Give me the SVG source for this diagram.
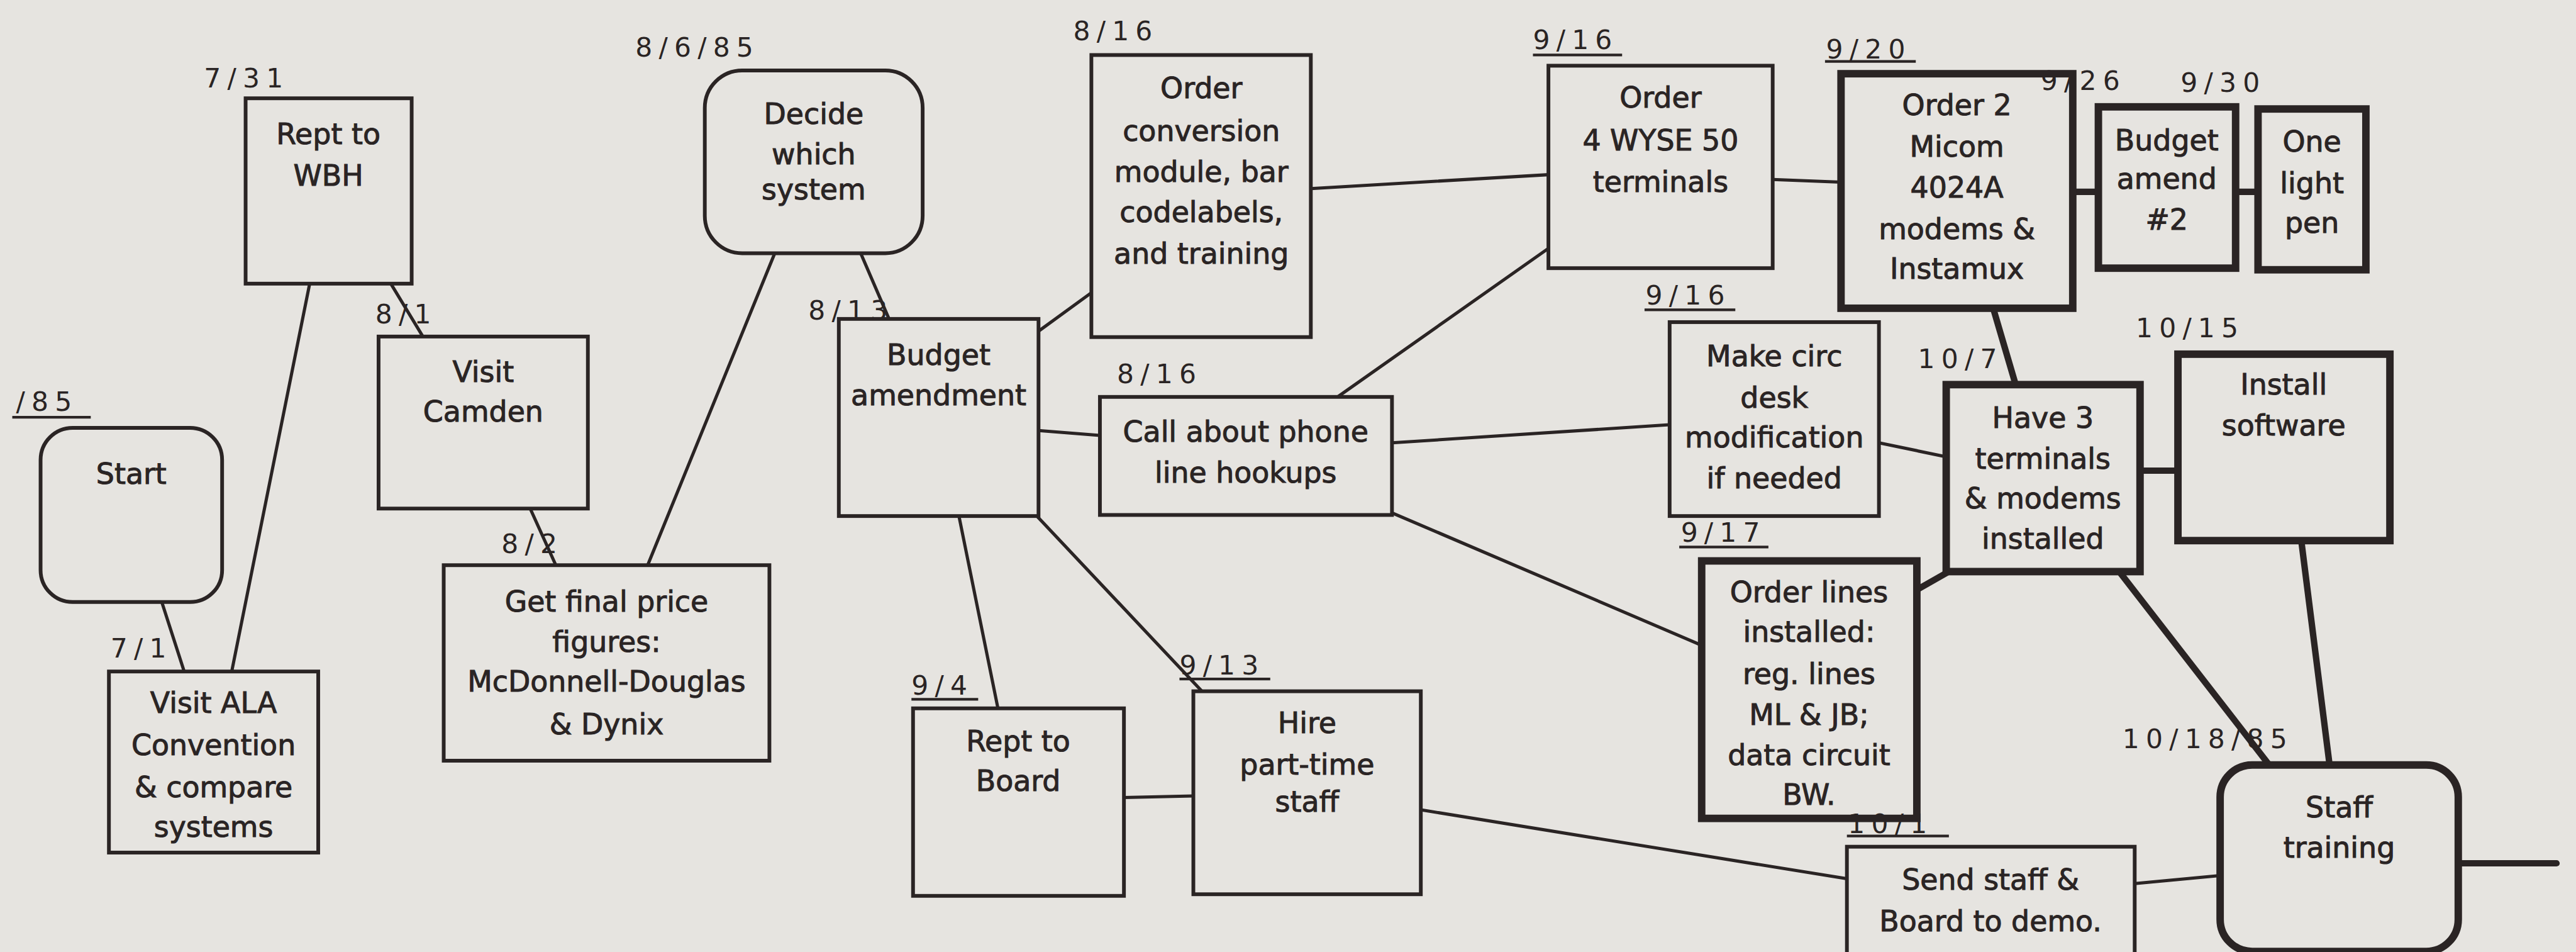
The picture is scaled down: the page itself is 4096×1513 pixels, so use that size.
<svg xmlns="http://www.w3.org/2000/svg" width="4096" height="1513" viewBox="0 0 4096 1513">
<style>
.bg{fill:#e6e4e0}
.box{fill:#e6e4e0;stroke:#2a2424;stroke-width:7}
.thick{stroke-width:14}
.t{font-family:"DejaVu Sans","Liberation Sans",sans-serif;font-size:54px;fill:#2a2424;stroke:#2a2424;stroke-width:1.2;text-anchor:middle}
.d{font-family:"DejaVu Sans","Liberation Sans",sans-serif;font-size:50px;letter-spacing:12px;fill:#2a2424}
.c{stroke:#2a2424;stroke-width:6;fill:none;stroke-linecap:round}
.ct{stroke-width:12}
.u{stroke:#2a2424;stroke-width:5}
</style>
<rect class="bg" x="0" y="0" width="4096" height="1513"/>
<g transform="scale(0.849)">
<g id="connectors">
<line class="c" x1="303" y1="1127" x2="345" y2="1257"/>
<line class="c" x1="434" y1="1257" x2="580" y2="531"/>
<line class="c" x1="732" y1="531" x2="792" y2="630"/>
<line class="c" x1="993" y1="952" x2="1041" y2="1058"/>
<line class="c" x1="1213" y1="1058" x2="1451" y2="474"/>
<line class="c" x1="1612" y1="474" x2="1665" y2="597"/>
<line class="c" x1="1945" y1="620" x2="2044" y2="548"/>
<line class="c" x1="1945" y1="806" x2="2060" y2="815"/>
<line class="c" x1="1796" y1="966" x2="1869" y2="1326"/>
<line class="c" x1="1942" y1="966" x2="2251" y2="1294"/>
<line class="c" x1="2105" y1="1493" x2="2235" y2="1490"/>
<line class="c" x1="2455" y1="353" x2="2900" y2="327"/>
<line class="c" x1="2505" y1="743" x2="2900" y2="465"/>
<line class="c" x1="2607" y1="829" x2="3127" y2="795"/>
<line class="c" x1="2607" y1="960" x2="3187" y2="1208"/>
<line class="c" x1="2661" y1="1516" x2="3459" y2="1645"/>
<line class="c" x1="3320" y1="336" x2="3448" y2="341"/>
<line class="c ct" x1="3882" y1="359" x2="3930" y2="359"/>
<line class="c ct" x1="4187" y1="359" x2="4229" y2="359"/>
<line class="c ct" x1="3733" y1="577" x2="3775" y2="720"/>
<line class="c" x1="3519" y1="829" x2="3645" y2="855"/>
<line class="c ct" x1="3590" y1="1104" x2="3650" y2="1070"/>
<line class="c ct" x1="4008" y1="881" x2="4079" y2="881"/>
<line class="c ct" x1="3969" y1="1070" x2="4250" y2="1432"/>
<line class="c ct" x1="4310" y1="1012" x2="4363" y2="1432"/>
<line class="c" x1="3998" y1="1654" x2="4158" y2="1639"/>
<line class="c ct" x1="4604" y1="1616" x2="4788" y2="1616"/>
</g>
<g id="start"><rect class="box" x="76" y="801" width="340" height="326" rx="60"/><text class="t" x="246" y="906">Start</text></g>
<g id="visit-ala"><rect class="box" x="204" y="1257" width="392" height="339"/><text class="t" x="400" y="1334">Visit ALA</text><text class="t" x="400" y="1414">Convention</text><text class="t" x="400" y="1492">&amp; compare</text><text class="t" x="400" y="1567">systems</text></g>
<g id="rept-wbh"><rect class="box" x="460" y="184" width="311" height="347"/><text class="t" x="615" y="270">Rept to</text><text class="t" x="615" y="347">WBH</text></g>
<g id="visit-camden"><rect class="box" x="709" y="630" width="392" height="322"/><text class="t" x="905" y="715">Visit</text><text class="t" x="905" y="789">Camden</text></g>
<g id="get-final-price"><rect class="box" x="831" y="1058" width="610" height="366"/><text class="t" x="1136" y="1145">Get final price</text><text class="t" x="1136" y="1220">figures:</text><text class="t" x="1136" y="1294">McDonnell-Douglas</text><text class="t" x="1136" y="1375">&amp; Dynix</text></g>
<g id="decide"><rect class="box" x="1320" y="132" width="408" height="342" rx="70"/><text class="t" x="1524" y="232">Decide</text><text class="t" x="1524" y="307">which</text><text class="t" x="1524" y="373">system</text></g>
<g id="budget-amendment"><rect class="box" x="1571" y="597" width="374" height="369"/><text class="t" x="1758" y="683">Budget</text><text class="t" x="1758" y="758">amendment</text></g>
<g id="order-conversion"><rect class="box" x="2044" y="103" width="411" height="528"/><text class="t" x="2250" y="184">Order</text><text class="t" x="2250" y="264">conversion</text><text class="t" x="2250" y="341">module, bar</text><text class="t" x="2250" y="416">codelabels,</text><text class="t" x="2250" y="494">and training</text></g>
<g id="call-phone"><rect class="box" x="2060" y="743" width="547" height="221"/><text class="t" x="2333" y="827">Call about phone</text><text class="t" x="2333" y="903">line hookups</text></g>
<g id="rept-board"><rect class="box" x="1710" y="1326" width="395" height="351"/><text class="t" x="1907" y="1406">Rept to</text><text class="t" x="1907" y="1481">Board</text></g>
<g id="hire"><rect class="box" x="2235" y="1294" width="426" height="380"/><text class="t" x="2448" y="1372">Hire</text><text class="t" x="2448" y="1450">part-time</text><text class="t" x="2448" y="1519">staff</text></g>
<g id="order-wyse"><rect class="box" x="2900" y="123" width="420" height="379"/><text class="t" x="3110" y="201">Order</text><text class="t" x="3110" y="281">4 WYSE 50</text><text class="t" x="3110" y="359">terminals</text></g>
<g id="make-circ"><rect class="box" x="3127" y="603" width="392" height="363"/><text class="t" x="3323" y="686">Make circ</text><text class="t" x="3323" y="763">desk</text><text class="t" x="3323" y="838">modification</text><text class="t" x="3323" y="914">if needed</text></g>
<g id="order-micom"><rect class="box thick" x="3448" y="138" width="434" height="439"/><text class="t" x="3665" y="215">Order 2</text><text class="t" x="3665" y="293">Micom</text><text class="t" x="3665" y="370">4024A</text><text class="t" x="3665" y="448">modems &amp;</text><text class="t" x="3665" y="522">Instamux</text></g>
<g id="budget-amend-2"><rect class="box thick" x="3930" y="200" width="257" height="302"/><text class="t" x="4058" y="281">Budget</text><text class="t" x="4058" y="353">amend</text><text class="t" x="4058" y="430">#2</text></g>
<g id="light-pen"><rect class="box thick" x="4229" y="204" width="202" height="301"/><text class="t" x="4330" y="284">One</text><text class="t" x="4330" y="362">light</text><text class="t" x="4330" y="436">pen</text></g>
<g id="have-3"><rect class="box thick" x="3645" y="720" width="363" height="350"/><text class="t" x="3826" y="801">Have 3</text><text class="t" x="3826" y="878">terminals</text><text class="t" x="3826" y="952">&amp; modems</text><text class="t" x="3826" y="1027">installed</text></g>
<g id="order-lines"><rect class="box thick" x="3187" y="1050" width="403" height="482"/><text class="t" x="3388" y="1127">Order lines</text><text class="t" x="3388" y="1202">installed:</text><text class="t" x="3388" y="1280">reg. lines</text><text class="t" x="3388" y="1357">ML &amp; JB;</text><text class="t" x="3388" y="1432">data circuit</text><text class="t" x="3388" y="1507">BW.</text></g>
<g id="install-software"><rect class="box thick" x="4079" y="663" width="397" height="349"/><text class="t" x="4277" y="738">Install</text><text class="t" x="4277" y="815">software</text></g>
<g id="send-staff"><rect class="box" x="3459" y="1585" width="539" height="230"/><text class="t" x="3728" y="1665">Send staff &amp;</text><text class="t" x="3728" y="1743">Board to demo.</text></g>
<g id="staff-training"><rect class="box thick" x="4158" y="1432" width="446" height="349" rx="60"/><text class="t" x="4381" y="1530">Staff</text><text class="t" x="4381" y="1605">training</text></g>
<g id="dates">
<text class="d" x="30" y="769">/85</text><line class="u" x1="23" y1="781" x2="170" y2="781"/>
<text class="d" x="382" y="164">7/31</text>
<text class="d" x="703" y="606">8/1</text>
<text class="d" x="207" y="1231">7/1</text>
<text class="d" x="1190" y="106">8/6/85</text>
<text class="d" x="1514" y="598">8/13</text>
<text class="d" x="939" y="1035">8/2</text>
<text class="d" x="2010" y="75">8/16</text>
<text class="d" x="2092" y="717">8/16</text>
<text class="d" x="1707" y="1300">9/4</text><line class="u" x1="1707" y1="1309" x2="1832" y2="1309"/>
<text class="d" x="2209" y="1263">9/13</text><line class="u" x1="2209" y1="1271" x2="2379" y2="1271"/>
<text class="d" x="2871" y="92">9/16</text><line class="u" x1="2871" y1="103" x2="3038" y2="103"/>
<text class="d" x="3082" y="570">9/16</text><line class="u" x1="3080" y1="580" x2="3250" y2="580"/>
<text class="d" x="3148" y="1014">9/17</text><line class="u" x1="3145" y1="1024" x2="3312" y2="1024"/>
<text class="d" x="3420" y="109">9/20</text><line class="u" x1="3418" y1="115" x2="3588" y2="115"/>
<text class="d" x="3822" y="169">9/26</text>
<text class="d" x="4084" y="172">9/30</text>
<text class="d" x="3592" y="689">10/7</text>
<text class="d" x="4000" y="631">10/15</text>
<text class="d" x="3461" y="1559">10/1</text><line class="u" x1="3459" y1="1565" x2="3650" y2="1565"/>
<text class="d" x="3975" y="1401">10/18/85</text>
</g>
</g>
</svg>
